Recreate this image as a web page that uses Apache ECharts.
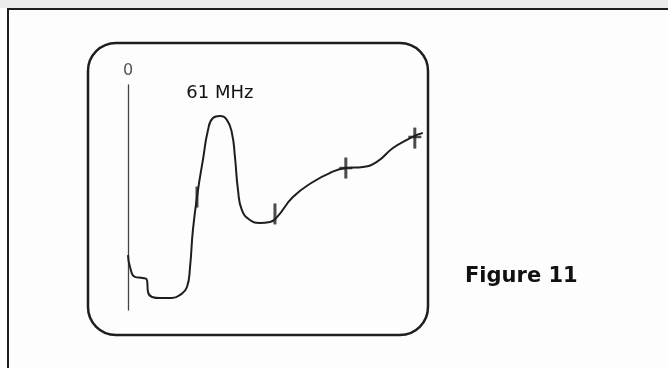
<!DOCTYPE html>
<html>
<head>
<meta charset="utf-8">
<script src="https://cdn.jsdelivr.net/npm/echarts@6/dist/echarts.min.js"></script>
<style>
  html, body { margin: 0; padding: 0; background: #fdfdfd; }
  #chart { width: 668px; height: 368px; }
</style>
</head>
<body>
<div id="chart"></div>
<script>
// sweep trace, frequency in MHz vs. response (arbitrary units)
const freqs = [0, 1.4, 4.8, 10.3, 13.1, 13.8, 16.6, 22.1, 30.3, 35.9, 40.7, 42.8, 44.8, 48.3, 51.7, 55.2, 58.6, 63.4, 68.3, 71.7, 73.8, 75.9, 78.6, 84.1, 91, 97.9, 102.8, 113.8, 127.6, 139.3, 150.3, 162.1, 171.7, 182.8, 192.4, 199.3, 203.4];
const response = [24.4, 19.1, 14.7, 14.2, 13.3, 8.0, 5.8, 5.3, 5.3, 6.7, 10.2, 19.1, 35.6, 53.3, 66.7, 80, 85.3, 86.2, 84.4, 78.7, 68, 53.3, 44.4, 40, 38.7, 39.1, 41.3, 50.2, 56.9, 60.9, 63.1, 63.6, 65.8, 72, 75.6, 77.8, 78.7];

// marker pips on the trace
const markerFreqs = [47.6, 101.4, 150.3, 197.9];
const markerLevels = [50.2, 42.7, 63.1, 76.4];
const crossFreqs = [150.3, 197.9];
const crossLevels = [63.1, 76.9];

const peakFreq = 63.4;
const peakLevel = 86.2;
const peakLabel = '61 MHz';
const zeroLabel = '0';
const figureTitle = 'Figure 11';

const chart = echarts.init(document.getElementById('chart'));

const ink = '#1e1e1e';

const option = {
    backgroundColor: '#fdfdfd',
    animation: false,
    grid: {
        left: 128,
        top: 85,
        width: 300,
        height: 225
    },
    xAxis: {
        type: 'value',
        min: 0,
        max: 207,
        show: false
    },
    yAxis: {
        type: 'value',
        min: 0,
        max: 100,
        name: zeroLabel,
        nameLocation: 'end',
        nameGap: 6,
        nameTextStyle: {
            color: '#555',
            fontFamily: 'DejaVu Sans',
            fontSize: 16,
            align: 'center'
        },
        axisLine: {
            show: true,
            lineStyle: { color: '#444', width: 1.3 }
        },
        axisTick: { show: false },
        axisLabel: { show: false },
        splitLine: { show: false }
    },
    graphic: [
        { // light strip above the frame
            type: 'rect',
            silent: true,
            shape: { x: 0, y: 0, width: 668, height: 8 },
            style: { fill: '#ebebeb' }
        },
        { // outer frame
            type: 'rect',
            silent: true,
            shape: { x: 8, y: 9, width: 700, height: 400 },
            style: { fill: null, stroke: ink, lineWidth: 2 }
        },
        { // screen outline
            type: 'rect',
            silent: true,
            shape: { x: 88, y: 43, width: 340, height: 292, r: 28 },
            style: { fill: null, stroke: ink, lineWidth: 2.5 }
        },
        {
            type: 'text',
            silent: true,
            left: 465,
            top: 266,
            style: {
                text: figureTitle,
                fill: '#111',
                font: 'bold 21px "DejaVu Sans"'
            }
        }
    ],
    series: [
        {
            type: 'line',
            data: freqs.map((f, i) => [f, response[i]]),
            smooth: 0.5,
            symbol: 'none',
            lineStyle: { color: ink, width: 2 },
            markPoint: {
                symbol: 'circle',
                symbolSize: 0,
                label: {
                    show: true,
                    position: 'top',
                    distance: 14,
                    formatter: peakLabel,
                    color: '#111',
                    fontFamily: 'DejaVu Sans',
                    fontSize: 18
                },
                data: [{ coord: [peakFreq, peakLevel] }]
            },
            z: 3
        },
        {
            type: 'scatter',
            data: markerFreqs.map((f, i) => [f, markerLevels[i]]),
            symbol: 'rect',
            symbolSize: [3, 21],
            itemStyle: { color: ink },
            z: 4
        },
        {
            type: 'scatter',
            data: crossFreqs.map((f, i) => [f, crossLevels[i]]),
            symbol: 'rect',
            symbolSize: [13, 2.5],
            itemStyle: { color: ink },
            z: 4
        }
    ]
};

chart.setOption(option);
</script>
</body>
</html>
